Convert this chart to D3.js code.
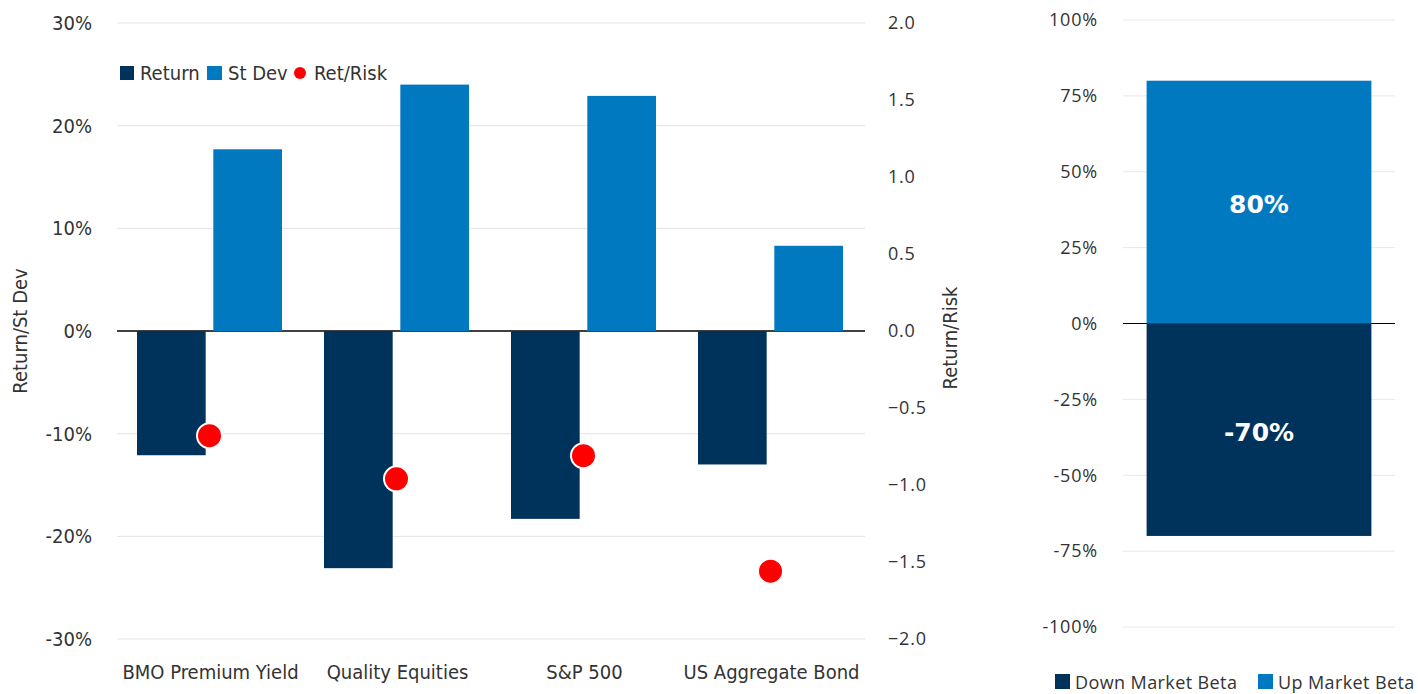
<!DOCTYPE html>
<html>
<head>
<meta charset="utf-8">
<script src="https://cdn.jsdelivr.net/npm/d3@7"></script>
<style>
  body { margin: 0; background: #fff; }
  text { fill: #333; }
  .cond { font-family: 'DejaVu Sans Condensed', 'DejaVu Sans', sans-serif; font-stretch: condensed; }
</style>
</head>
<body>
<svg id="chart" width="1418" height="694"></svg>
<script>
const categories = ["BMO Premium Yield", "Quality Equities", "S&P 500", "US Aggregate Bond"];
const returns = [-12.1, -23.1, -18.3, -13.0];
const stDevs = [17.7, 24.0, 22.9, 8.3];
const retRisk = [-0.68, -0.96, -0.81, -1.56];
const leftTicks = [-30, -20, -10, 0, 10, 20, 30];
const rightTicks = [-2.0, -1.5, -1.0, -0.5, 0.0, 0.5, 1.0, 1.5, 2.0];

const betaNames = ["Down Market Beta", "Up Market Beta"];
const betaValues = [-70, 80];
const betaTicks = [-100, -75, -50, -25, 0, 25, 50, 75, 100];

const dark = "#00335c";
const blue = "#0079c1";
const wide = "'Open Sans', 'Noto Sans', sans-serif";

const svg = d3.select("#chart");

// ---- left chart ----
const x = d3.scaleBand().domain(categories).range([117, 865]);
const sub = d3.scaleBand().domain(["Return", "St Dev"]).range([20, x.bandwidth() - 22]).paddingInner(0.1);
const y = d3.scaleLinear().domain([-30, 30]).range([639, 23]);
const y2 = d3.scaleLinear().domain([-2, 2]).range([639, 23]);

svg.append("g")
  .selectAll("line")
  .data(leftTicks)
  .join("line")
  .attr("x1", 117).attr("x2", 865)
  .attr("y1", d => y(d)).attr("y2", d => y(d))
  .attr("stroke", d => d === 0 ? "#000" : "#e3e3e3")
  .attr("stroke-width", d => d === 0 ? 1.5 : 1);

svg.append("g")
  .attr("transform", "translate(92,0)")
  .call(d3.axisLeft(y).tickValues(leftTicks).tickSize(0).tickPadding(0).tickFormat(d => d + "%"))
  .call(g => g.select(".domain").remove())
  .selectAll("text")
  .attr("class", "cond").attr("font-family", null).attr("font-size", 20).attr("fill", "#333");

svg.append("g")
  .attr("transform", "translate(888,0)")
  .call(d3.axisRight(y2).tickValues(rightTicks).tickSize(0).tickPadding(0).tickFormat(d3.format(".1f")))
  .call(g => g.select(".domain").remove())
  .selectAll("text")
  .attr("font-family", wide).attr("font-size", 18).attr("letter-spacing", 0.8).attr("fill", "#444");

svg.append("g")
  .attr("transform", "translate(0,679)")
  .call(d3.axisBottom(x).tickSize(0).tickPadding(0))
  .call(g => g.select(".domain").remove())
  .selectAll("text")
  .attr("dy", 0)
  .attr("class", "cond").attr("font-family", null).attr("font-size", 20).attr("fill", "#333");

svg.append("text")
  .attr("class", "cond")
  .attr("transform", "translate(27,331) rotate(-90)")
  .attr("text-anchor", "middle")
  .attr("font-size", 20)
  .text("Return/St Dev");

svg.append("text")
  .attr("class", "cond")
  .attr("transform", "translate(957,338) rotate(-90)")
  .attr("text-anchor", "middle")
  .attr("font-size", 20)
  .text("Return/Risk");

const bars = svg.append("g");
bars.selectAll(".ret")
  .data(categories)
  .join("rect")
  .attr("x", d => x(d) + sub("Return"))
  .attr("width", sub.bandwidth())
  .attr("y", y(0))
  .attr("height", (d, i) => y(returns[i]) - y(0))
  .attr("fill", dark);

bars.selectAll(".sd")
  .data(categories)
  .join("rect")
  .attr("x", d => x(d) + sub("St Dev"))
  .attr("width", sub.bandwidth())
  .attr("y", (d, i) => y(stDevs[i]))
  .attr("height", (d, i) => y(0) - y(stDevs[i]))
  .attr("fill", blue);

svg.append("g")
  .selectAll("circle")
  .data(categories)
  .join("circle")
  .attr("cx", d => x(d) + x.bandwidth() / 2 - 1)
  .attr("cy", (d, i) => y2(retRisk[i]))
  .attr("r", 12.5)
  .attr("fill", "#f00")
  .attr("stroke", "#fff")
  .attr("stroke-width", 2);

const legend = svg.append("g").attr("class", "cond").attr("font-size", 20);
legend.append("rect").attr("x", 120).attr("y", 66).attr("width", 14).attr("height", 14).attr("fill", dark);
legend.append("text").attr("x", 140).attr("y", 80).text("Return");
legend.append("rect").attr("x", 207).attr("y", 66).attr("width", 15).attr("height", 14).attr("fill", blue);
legend.append("text").attr("x", 228).attr("y", 80).text("St Dev");
legend.append("circle").attr("cx", 300).attr("cy", 73).attr("r", 6).attr("fill", "#f00");
legend.append("text").attr("x", 314).attr("y", 80).text("Ret/Risk");

// ---- right chart ----
const yb = d3.scaleLinear().domain([-100, 100]).range([627, 20]);
const xb = d3.scaleBand().domain(["beta"]).range([1123, 1395]).paddingInner(0).paddingOuter(0.105);

svg.append("g")
  .selectAll("line")
  .data(betaTicks)
  .join("line")
  .attr("x1", 1123).attr("x2", 1395)
  .attr("y1", d => yb(d)).attr("y2", d => yb(d))
  .attr("stroke", d => d === 0 ? "#000" : "#e8e8e8")
  .attr("stroke-width", 1);

svg.append("g")
  .attr("transform", "translate(1098,0)")
  .call(d3.axisLeft(yb).tickValues(betaTicks).tickSize(0).tickPadding(0).tickFormat(d => d + "%"))
  .call(g => g.select(".domain").remove())
  .selectAll("text")
  .attr("font-family", wide).attr("font-size", 18).attr("letter-spacing", 0.8).attr("fill", "#444");

const betaColors = [dark, blue];
svg.append("g")
  .selectAll("rect")
  .data(betaValues)
  .join("rect")
  .attr("x", xb("beta"))
  .attr("width", xb.bandwidth())
  .attr("y", d => d > 0 ? yb(d) : yb(0))
  .attr("height", d => Math.abs(yb(d) - yb(0)))
  .attr("fill", (d, i) => betaColors[i]);

svg.append("g")
  .selectAll("text")
  .data(betaValues)
  .join("text")
  .attr("x", xb("beta") + xb.bandwidth() / 2)
  .attr("y", d => yb(d / 2) + 11)
  .attr("text-anchor", "middle")
  .attr("font-family", "'DejaVu Sans', sans-serif")
  .attr("font-weight", "bold")
  .attr("font-size", 25)
  .style("fill", "#fff")
  .text(d => d + "%");

const bl = svg.append("g").attr("font-family", wide).attr("font-size", 18).attr("letter-spacing", 0.4);
bl.append("rect").attr("x", 1055).attr("y", 674).attr("width", 15).attr("height", 15).attr("fill", dark);
bl.append("text").attr("x", 1075).attr("y", 689).text(betaNames[0]);
bl.append("rect").attr("x", 1258).attr("y", 674).attr("width", 15).attr("height", 15).attr("fill", blue);
bl.append("text").attr("x", 1278).attr("y", 689).text(betaNames[1]);
</script>
</body>
</html>
